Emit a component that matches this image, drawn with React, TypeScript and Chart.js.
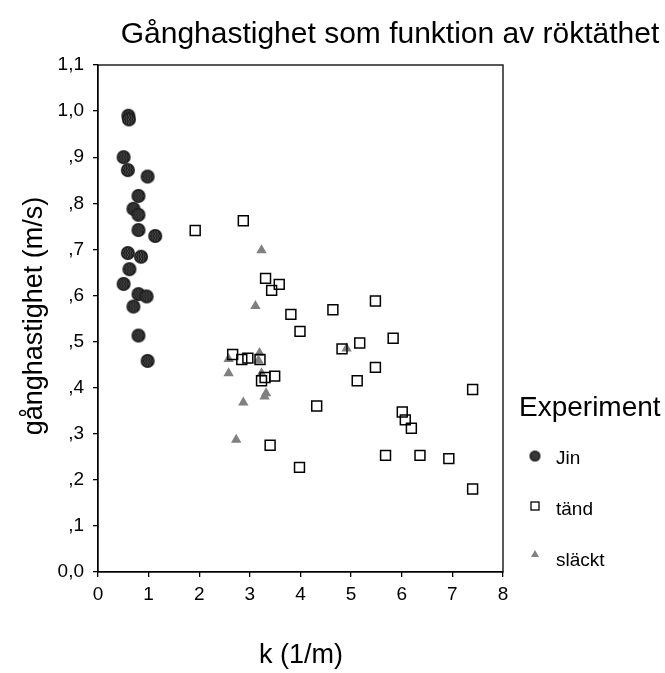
import React, { useEffect, useRef } from "react";
import { Chart, registerables } from "chart.js";

Chart.register(...registerables);

const titleText = "Gånghastighet som funktion av röktäthet";
const xTitle = "k (1/m)";
const yTitle = "gånghastighet (m/s)";
const legendTitle = "Experiment";
const seriesNames = ["Jin", "tänd", "släckt"];

const jinK = [0.60, 0.61, 0.505, 0.59, 0.98, 0.80, 0.70, 0.80, 0.80, 1.13, 0.59, 0.85, 0.62, 0.505, 0.80, 0.96, 0.70, 0.80, 0.98];
const jinV = [0.99, 0.982, 0.90, 0.872, 0.858, 0.816, 0.788, 0.775, 0.742, 0.729, 0.692, 0.684, 0.657, 0.625, 0.603, 0.598, 0.576, 0.513, 0.458];

const tandK = [1.92, 2.87, 3.31, 3.58, 3.43, 3.81, 4.64, 3.99, 4.82, 2.66, 2.84, 2.96, 3.20, 3.23, 3.30, 3.49, 4.32, 3.40, 5.48, 5.17, 5.83, 5.48, 5.12, 7.40, 6.01, 6.07, 6.19, 3.98, 5.68, 6.36, 6.93, 7.40];
const tandV = [0.741, 0.762, 0.637, 0.624, 0.611, 0.559, 0.569, 0.522, 0.484, 0.472, 0.461, 0.464, 0.461, 0.415, 0.422, 0.425, 0.360, 0.275, 0.588, 0.497, 0.507, 0.444, 0.415, 0.396, 0.347, 0.330, 0.312, 0.227, 0.253, 0.253, 0.246, 0.180];

const slacktK = [3.23, 3.11, 2.58, 3.19, 3.17, 2.58, 3.23, 3.32, 3.29, 2.87, 4.91, 2.73];
const slacktV = [0.698, 0.577, 0.462, 0.475, 0.459, 0.431, 0.431, 0.388, 0.381, 0.368, 0.485, 0.287];

const xTicks = [0, 1, 2, 3, 4, 5, 6, 7, 8];
const yTickLabels = ["0,0", ",1", ",2", ",3", ",4", ",5", ",6", ",7", ",8", ",9", "1,0", "1,1"];

const FONT = "Arial, 'Liberation Sans', sans-serif";

function makeJinMarker(d: number): HTMLCanvasElement {
  const c = document.createElement("canvas");
  c.width = d + 2;
  c.height = d + 2;
  const ctx = c.getContext("2d")!;
  const cx = (d + 2) / 2;
  const r = d / 2;
  ctx.beginPath();
  ctx.arc(cx, cx, r, 0, Math.PI * 2);
  ctx.fillStyle = "#1a1a1a";
  ctx.fill();
  ctx.save();
  ctx.beginPath();
  ctx.arc(cx, cx, r - 1.5, 0, Math.PI * 2);
  ctx.clip();
  ctx.strokeStyle = "#6a6a6a";
  ctx.lineWidth = 0.8;
  for (let i = -2; i <= 2; i++) {
    const x0 = cx + i * (d / 5.5);
    ctx.beginPath();
    for (let y = 0; y <= d + 2; y += 2) {
      const xx = x0 + (y % 4 === 0 ? -0.8 : 0.8);
      if (y === 0) ctx.moveTo(xx, y);
      else ctx.lineTo(xx, y);
    }
    ctx.stroke();
  }
  ctx.restore();
  return c;
}

const pts = (xs: number[], ys: number[]) => xs.map((x, i) => ({ x, y: ys[i] }));

export default function App() {
  const ref = useRef<HTMLCanvasElement | null>(null);

  useEffect(() => {
    const canvas = ref.current;
    if (!canvas) return;
    const jinMarker = makeJinMarker(14);
    const jinLegend = makeJinMarker(11);

    const decor = {
      id: "decor",
      afterDraw(chart: any) {
        const { ctx, chartArea } = chart;
        ctx.save();
        ctx.strokeStyle = "#000";
        ctx.lineWidth = 1.3;
        ctx.strokeRect(chartArea.left, chartArea.top, chartArea.right - chartArea.left, chartArea.bottom - chartArea.top);
        ctx.fillStyle = "#000";
        ctx.textBaseline = "middle";
        ctx.font = `30px ${FONT}`;
        ctx.textAlign = "center";
        ctx.fillText(titleText, 390, 35);
        ctx.font = `27px ${FONT}`;
        ctx.fillText(xTitle, 301, 656);
        ctx.save();
        ctx.translate(35, 316);
        ctx.rotate(-Math.PI / 2);
        ctx.fillText(yTitle, 0, 0);
        ctx.restore();
        ctx.textAlign = "left";
        ctx.font = `28px ${FONT}`;
        ctx.fillText(legendTitle, 519, 408);
        ctx.font = `19px ${FONT}`;
        const ys = [458, 509, 560];
        seriesNames.forEach((name, i) => {
          ctx.fillText(name, 556, ys[i] + 1);
        });
        ctx.drawImage(jinLegend, 535 - jinLegend.width / 2, 456 - jinLegend.height / 2);
        ctx.lineWidth = 1.3;
        ctx.strokeStyle = "#000";
        ctx.strokeRect(531, 502, 8, 8);
        ctx.fillStyle = "#808080";
        ctx.beginPath();
        ctx.moveTo(535, 550);
        ctx.lineTo(539, 557);
        ctx.lineTo(531, 557);
        ctx.closePath();
        ctx.fill();
        ctx.restore();
      },
    };

    const chart = new Chart(canvas, {
      type: "scatter",
      data: {
        datasets: [
          {
            label: seriesNames[0],
            data: pts(jinK, jinV),
            pointStyle: jinMarker as any,
            pointRadius: 7,
            backgroundColor: "#1a1a1a",
            borderColor: "#1a1a1a",
          },
          {
            label: seriesNames[1],
            data: pts(tandK, tandV),
            pointStyle: "rect",
            pointRadius: 7,
            backgroundColor: "rgba(0,0,0,0)",
            borderColor: "#000",
            borderWidth: 1.5,
          },
          {
            label: seriesNames[2],
            data: pts(slacktK, slacktV),
            pointStyle: "triangle",
            pointRadius: 6,
            backgroundColor: "#808080",
            borderColor: "#808080",
            borderWidth: 0,
          },
        ],
      },
      options: {
        responsive: false,
        animation: false,
        layout: { padding: { left: 0, top: 65, right: 162, bottom: 0 } },
        plugins: {
          legend: { display: false },
          title: { display: false },
          tooltip: { enabled: false },
        },
        scales: {
          x: {
            type: "linear",
            min: 0,
            max: 8,
            afterFit(scale: any) {
              scale.height = 101;
            },
            afterBuildTicks(scale: any) {
              scale.ticks = xTicks.map((v) => ({ value: v }));
            },
            ticks: {
              color: "#000",
              font: { family: FONT, size: 19 },
              padding: 6,
              callback: (v: any) => String(v),
            },
            grid: { drawOnChartArea: false, drawTicks: true, tickLength: 5, color: "#000", lineWidth: 1.3 },
            border: { display: true, color: "#000", width: 1.3 },
          },
          y: {
            type: "linear",
            min: 0,
            max: 1.1,
            afterFit(scale: any) {
              scale.width = 98;
            },
            afterBuildTicks(scale: any) {
              scale.ticks = yTickLabels.map((_, i) => ({ value: i / 10 }));
            },
            ticks: {
              color: "#000",
              font: { family: FONT, size: 19 },
              padding: 9,
              callback: (v: any) => yTickLabels[Math.round(Number(v) * 10)],
            },
            grid: { drawOnChartArea: false, drawTicks: true, tickLength: 5, color: "#000", lineWidth: 1.3 },
            border: { display: true, color: "#000", width: 1.3 },
          },
        },
      },
      plugins: [decor],
    });
    return () => chart.destroy();
  }, []);

  return (
    <div style={{ position: "fixed", left: 0, top: 0, width: 665, height: 673, background: "#fff" }}>
      <canvas ref={ref} width={665} height={673} style={{ display: "block" }} />
    </div>
  );
}
